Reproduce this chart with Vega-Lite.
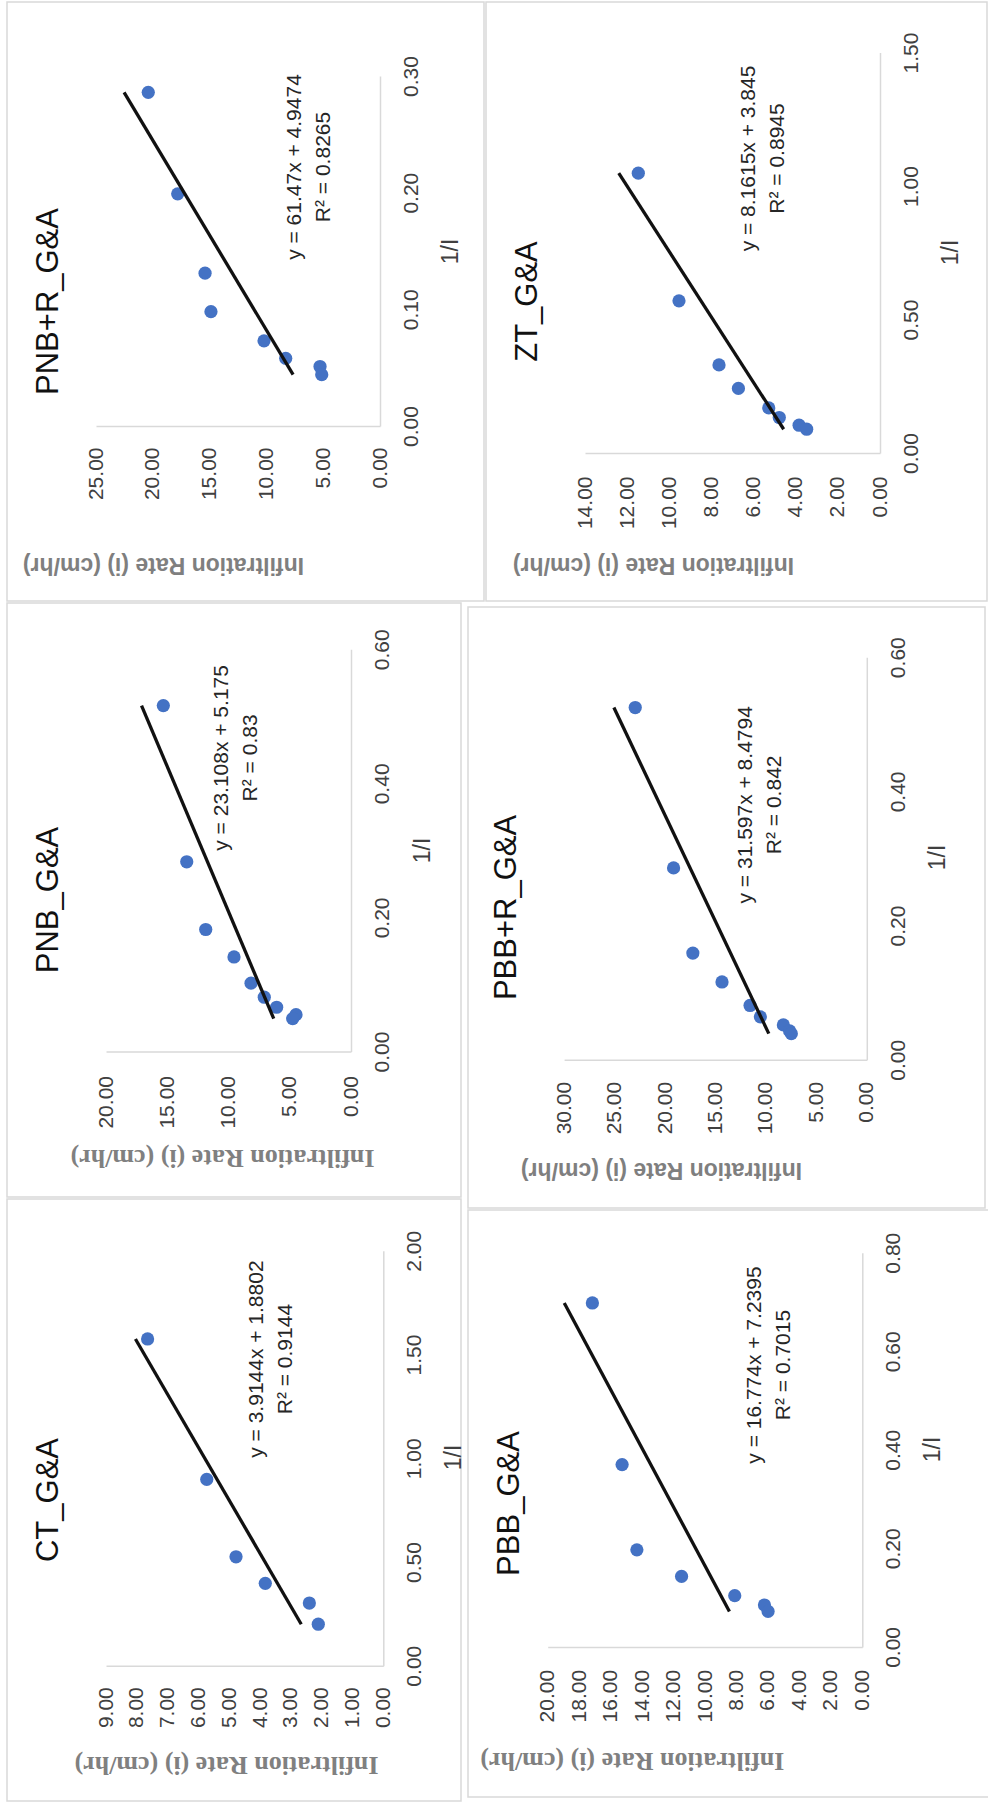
{
  "$schema": "https://vega.github.io/schema/vega-lite/v6.json",
  "padding": {"left": 6, "top": 1, "right": 0, "bottom": 0},
  "background": "white",
  "datasets": {
    "points": [
      {"panel": "PNB+R_G&A", "inv": 0.286, "rate": 20.40},
      {"panel": "PNB+R_G&A", "inv": 0.199, "rate": 17.81},
      {"panel": "PNB+R_G&A", "inv": 0.131, "rate": 15.40},
      {"panel": "PNB+R_G&A", "inv": 0.098, "rate": 14.88},
      {"panel": "PNB+R_G&A", "inv": 0.073, "rate": 10.21},
      {"panel": "PNB+R_G&A", "inv": 0.058, "rate": 8.30},
      {"panel": "PNB+R_G&A", "inv": 0.051, "rate": 5.28},
      {"panel": "PNB+R_G&A", "inv": 0.044, "rate": 5.13},
      {"panel": "ZT_G&A", "inv": 1.048, "rate": 11.47},
      {"panel": "ZT_G&A", "inv": 0.570, "rate": 9.54},
      {"panel": "ZT_G&A", "inv": 0.330, "rate": 7.64},
      {"panel": "ZT_G&A", "inv": 0.242, "rate": 6.72},
      {"panel": "ZT_G&A", "inv": 0.169, "rate": 5.28},
      {"panel": "ZT_G&A", "inv": 0.133, "rate": 4.78},
      {"panel": "ZT_G&A", "inv": 0.104, "rate": 3.84},
      {"panel": "ZT_G&A", "inv": 0.089, "rate": 3.48},
      {"panel": "PNB_G&A", "inv": 0.516, "rate": 15.32},
      {"panel": "PNB_G&A", "inv": 0.283, "rate": 13.41},
      {"panel": "PNB_G&A", "inv": 0.182, "rate": 11.86},
      {"panel": "PNB_G&A", "inv": 0.141, "rate": 9.55},
      {"panel": "PNB_G&A", "inv": 0.102, "rate": 8.16},
      {"panel": "PNB_G&A", "inv": 0.081, "rate": 7.08},
      {"panel": "PNB_G&A", "inv": 0.066, "rate": 6.07},
      {"panel": "PNB_G&A", "inv": 0.055, "rate": 4.49},
      {"panel": "PNB_G&A", "inv": 0.049, "rate": 4.76},
      {"panel": "PBB+R_G&A", "inv": 0.525, "rate": 22.95},
      {"panel": "PBB+R_G&A", "inv": 0.286, "rate": 19.15},
      {"panel": "PBB+R_G&A", "inv": 0.159, "rate": 17.24},
      {"panel": "PBB+R_G&A", "inv": 0.116, "rate": 14.35},
      {"panel": "PBB+R_G&A", "inv": 0.081, "rate": 11.57},
      {"panel": "PBB+R_G&A", "inv": 0.064, "rate": 10.55},
      {"panel": "PBB+R_G&A", "inv": 0.052, "rate": 8.27},
      {"panel": "PBB+R_G&A", "inv": 0.043, "rate": 7.65},
      {"panel": "PBB+R_G&A", "inv": 0.039, "rate": 7.48},
      {"panel": "CT_G&A", "inv": 1.575, "rate": 7.65},
      {"panel": "CT_G&A", "inv": 0.898, "rate": 5.73},
      {"panel": "CT_G&A", "inv": 0.525, "rate": 4.78},
      {"panel": "CT_G&A", "inv": 0.397, "rate": 3.83},
      {"panel": "CT_G&A", "inv": 0.302, "rate": 2.40},
      {"panel": "CT_G&A", "inv": 0.200, "rate": 2.11},
      {"panel": "PBB_G&A", "inv": 0.698, "rate": 17.16},
      {"panel": "PBB_G&A", "inv": 0.370, "rate": 15.27},
      {"panel": "PBB_G&A", "inv": 0.197, "rate": 14.33},
      {"panel": "PBB_G&A", "inv": 0.143, "rate": 11.49},
      {"panel": "PBB_G&A", "inv": 0.104, "rate": 8.11},
      {"panel": "PBB_G&A", "inv": 0.085, "rate": 6.22},
      {"panel": "PBB_G&A", "inv": 0.072, "rate": 5.99}
    ],
    "trend": [
      {"panel": "PNB+R_G&A", "inv": 0.044, "rate": 7.652},
      {"panel": "PNB+R_G&A", "inv": 0.286, "rate": 22.528},
      {"panel": "ZT_G&A", "inv": 0.089, "rate": 4.571},
      {"panel": "ZT_G&A", "inv": 1.048, "rate": 12.398},
      {"panel": "PNB_G&A", "inv": 0.049, "rate": 6.307},
      {"panel": "PNB_G&A", "inv": 0.516, "rate": 17.099},
      {"panel": "PBB+R_G&A", "inv": 0.039, "rate": 9.712},
      {"panel": "PBB+R_G&A", "inv": 0.525, "rate": 25.068},
      {"panel": "CT_G&A", "inv": 0.200, "rate": 2.663},
      {"panel": "CT_G&A", "inv": 1.575, "rate": 8.045},
      {"panel": "PBB_G&A", "inv": 0.072, "rate": 8.447},
      {"panel": "PBB_G&A", "inv": 0.698, "rate": 18.948}
    ],
    "labels": [
      {"panel": "PNB+R_G&A", "eq": "y = 61.47x + 4.9474\nR² = 0.8265"},
      {"panel": "ZT_G&A", "eq": "y = 8.1615x + 3.845\nR² = 0.8945"},
      {"panel": "PNB_G&A", "eq": "y = 23.108x + 5.175\nR² = 0.83"},
      {"panel": "PBB+R_G&A", "eq": "y = 31.597x + 8.4794\nR² = 0.842"},
      {"panel": "CT_G&A", "eq": "y = 3.9144x + 1.8802\nR² = 0.9144"},
      {"panel": "PBB_G&A", "eq": "y = 16.774x + 7.2395\nR² = 0.7015"}
    ]
  },
  "config": {
    "view": {"stroke": "#d9d9d9", "strokeWidth": 1.5},
    "axis": {"ticks": false, "tickSize": 0, "grid": false, "domainColor": "#d9d9d9", "domainWidth": 1.5, "labelFont": "Liberation Sans", "labelFontSize": 21, "labelColor": "#404040", "labelFlush": false, "labelOverlap": false, "titleAlign": "center", "titleBaseline": "middle"},
    "title": {"font": "Liberation Sans", "fontSize": 31, "fontWeight": "normal", "color": "#111111", "orient": "left", "anchor": "middle", "frame": "group", "baseline": "middle"}
  },
  "vconcat": [
    {
      "hconcat": [
        {
          "width": 477, "height": 599,
          "title": {"text": "PNB+R_G&A", "orient": "left", "anchor": "middle", "frame": "group", "baseline": "middle", "offset": -73, "font": "Liberation Sans", "fontSize": 31, "fontWeight": "normal", "color": "#111111"},
          "layer": [
            {"data": {"name": "points"}, "transform": [{"filter": {"field": "panel", "equal": "PNB+R_G&A"}}],
             "mark": {"type": "circle", "size": 175, "color": "#4472C4", "opacity": 1},
             "encoding": {
               "x": {"field": "rate", "type": "quantitative", "title": "Infiltration Rate (i) (cm/hr)", "scale": {"domain": [0, 25], "range": [373, 89], "nice": false, "zero": false},
                 "axis": {"orient": "bottom", "offset": -175, "values": [0, 5, 10, 15, 20, 25], "format": ".2f", "ticks": false, "tickSize": 0, "grid": false, "domainColor": "#d9d9d9", "domainWidth": 1.5, "labelFont": "Liberation Sans", "labelFontSize": 21, "labelColor": "#404040", "labelFlush": false, "labelOverlap": false, "labelPadding": 21, "labelAngle": 270, "labelAlign": "right", "labelBaseline": "middle", "titleFont": "Liberation Sans", "titleFontSize": 23, "titleFontWeight": "bold", "titleColor": "#7f7f7f", "titleAngle": 180, "titleAlign": "center", "titleBaseline": "middle", "titleX": 156, "titleY": 138}},
               "y": {"field": "inv", "type": "quantitative", "title": "1/I", "scale": {"domain": [0, 0.3], "range": [424, 74], "nice": false, "zero": false},
                 "axis": {"orient": "right", "offset": -104, "values": [0, 0.1, 0.2, 0.3], "format": ".2f", "ticks": false, "tickSize": 0, "grid": false, "domainColor": "#d9d9d9", "domainWidth": 1.5, "labelFont": "Liberation Sans", "labelFontSize": 21, "labelColor": "#404040", "labelFlush": false, "labelOverlap": false, "labelPadding": 20.5, "labelAngle": 270, "labelAlign": "center", "labelBaseline": "top", "titleFont": "Liberation Sans", "titleFontSize": 23, "titleFontWeight": "normal", "titleColor": "#404040", "titleAngle": 270, "titleAlign": "center", "titleBaseline": "middle", "titleX": 70.5, "titleY": 249}}
             }},
            {"data": {"name": "trend"}, "transform": [{"filter": {"field": "panel", "equal": "PNB+R_G&A"}}],
             "mark": {"type": "line", "color": "#111111", "strokeWidth": 3.3},
             "encoding": {"x": {"field": "rate", "type": "quantitative", "title": "Infiltration Rate (i) (cm/hr)"}, "y": {"field": "inv", "type": "quantitative", "title": "1/I"}}},
            {"data": {"name": "labels"}, "transform": [{"filter": {"field": "panel", "equal": "PNB+R_G&A"}}],
             "mark": {"type": "text", "angle": 270, "align": "center", "baseline": "middle", "lineBreak": "\n", "lineHeight": 29, "font": "Liberation Sans", "fontSize": 21, "color": "#262626"},
             "encoding": {"x": {"datum": 7.48, "type": "quantitative", "title": "Infiltration Rate (i) (cm/hr)"}, "y": {"datum": 0.222, "type": "quantitative", "title": "1/I"}, "text": {"field": "eq", "type": "nominal"}}}
          ]
        },
        {
          "width": 501, "height": 599,
          "title": {"text": "ZT_G&A", "orient": "left", "anchor": "middle", "frame": "group", "baseline": "middle", "offset": -73, "font": "Liberation Sans", "fontSize": 31, "fontWeight": "normal", "color": "#111111"},
          "layer": [
            {"data": {"name": "points"}, "transform": [{"filter": {"field": "panel", "equal": "ZT_G&A"}}],
             "mark": {"type": "circle", "size": 175, "color": "#4472C4", "opacity": 1},
             "encoding": {
               "x": {"field": "rate", "type": "quantitative", "title": "Infiltration Rate (i) (cm/hr)", "scale": {"domain": [0, 14], "range": [394, 99], "nice": false, "zero": false},
                 "axis": {"orient": "bottom", "offset": -148, "values": [0, 2, 4, 6, 8, 10, 12, 14], "format": ".2f", "ticks": false, "tickSize": 0, "grid": false, "domainColor": "#d9d9d9", "domainWidth": 1.5, "labelFont": "Liberation Sans", "labelFontSize": 21, "labelColor": "#404040", "labelFlush": false, "labelOverlap": false, "labelPadding": 23, "labelAngle": 270, "labelAlign": "right", "labelBaseline": "middle", "titleFont": "Liberation Sans", "titleFontSize": 23, "titleFontWeight": "bold", "titleColor": "#7f7f7f", "titleAngle": 180, "titleAlign": "center", "titleBaseline": "middle", "titleX": 167, "titleY": 111}},
               "y": {"field": "inv", "type": "quantitative", "title": "1/I", "scale": {"domain": [0, 1.5], "range": [451, 50.5], "nice": false, "zero": false},
                 "axis": {"orient": "right", "offset": -107, "values": [0, 0.5, 1, 1.5], "format": ".2f", "ticks": false, "tickSize": 0, "grid": false, "domainColor": "#d9d9d9", "domainWidth": 1.5, "labelFont": "Liberation Sans", "labelFontSize": 21, "labelColor": "#404040", "labelFlush": false, "labelOverlap": false, "labelPadding": 20.5, "labelAngle": 270, "labelAlign": "center", "labelBaseline": "top", "titleFont": "Liberation Sans", "titleFontSize": 23, "titleFontWeight": "normal", "titleColor": "#404040", "titleAngle": 270, "titleAlign": "center", "titleBaseline": "middle", "titleX": 70, "titleY": 250}}
             }},
            {"data": {"name": "trend"}, "transform": [{"filter": {"field": "panel", "equal": "ZT_G&A"}}],
             "mark": {"type": "line", "color": "#111111", "strokeWidth": 3.3},
             "encoding": {"x": {"field": "rate", "type": "quantitative", "title": "Infiltration Rate (i) (cm/hr)"}, "y": {"field": "inv", "type": "quantitative", "title": "1/I"}}},
            {"data": {"name": "labels"}, "transform": [{"filter": {"field": "panel", "equal": "ZT_G&A"}}],
             "mark": {"type": "text", "angle": 270, "align": "center", "baseline": "middle", "lineBreak": "\n", "lineHeight": 29, "font": "Liberation Sans", "fontSize": 21, "color": "#262626"},
             "encoding": {"x": {"datum": 6.24, "type": "quantitative", "title": "Infiltration Rate (i) (cm/hr)"}, "y": {"datum": 1.103, "type": "quantitative", "title": "1/I"}, "text": {"field": "eq", "type": "nominal"}}}
          ]
        }
      ],
      "spacing": 0
    },
    {
      "hconcat": [
        {
          "vconcat": [
            {
              "width": 454, "height": 594,
              "title": {"text": "PNB_G&A", "orient": "left", "anchor": "middle", "frame": "group", "baseline": "middle", "offset": -73, "font": "Liberation Sans", "fontSize": 31, "fontWeight": "normal", "color": "#111111"},
              "layer": [
                {"data": {"name": "points"}, "transform": [{"filter": {"field": "panel", "equal": "PNB_G&A"}}],
                 "mark": {"type": "circle", "size": 175, "color": "#4472C4", "opacity": 1},
                 "encoding": {
                   "x": {"field": "rate", "type": "quantitative", "title": "Infiltration Rate (i) (cm/hr)", "scale": {"domain": [0, 20], "range": [344, 99], "nice": false, "zero": false},
                     "axis": {"orient": "bottom", "offset": -145.5, "values": [0, 5, 10, 15, 20], "format": ".2f", "ticks": false, "tickSize": 0, "grid": false, "domainColor": "#d9d9d9", "domainWidth": 1.5, "labelFont": "Liberation Sans", "labelFontSize": 21, "labelColor": "#404040", "labelFlush": false, "labelOverlap": false, "labelPadding": 24, "labelAngle": 270, "labelAlign": "right", "labelBaseline": "middle", "titleFont": "Liberation Serif", "titleFontSize": 26, "titleFontWeight": "bold", "titleColor": "#808080", "titleAngle": 180, "titleAlign": "center", "titleBaseline": "middle", "titleX": 215, "titleY": 105.5}},
                   "y": {"field": "inv", "type": "quantitative", "title": "1/I", "scale": {"domain": [0, 0.6], "range": [448.5, 46.3], "nice": false, "zero": false},
                     "axis": {"orient": "right", "offset": -110, "values": [0, 0.2, 0.4, 0.6], "format": ".2f", "ticks": false, "tickSize": 0, "grid": false, "domainColor": "#d9d9d9", "domainWidth": 1.5, "labelFont": "Liberation Sans", "labelFontSize": 21, "labelColor": "#404040", "labelFlush": false, "labelOverlap": false, "labelPadding": 20.5, "labelAngle": 270, "labelAlign": "center", "labelBaseline": "top", "titleFont": "Liberation Sans", "titleFontSize": 23, "titleFontWeight": "normal", "titleColor": "#404040", "titleAngle": 270, "titleAlign": "center", "titleBaseline": "middle", "titleX": 71.5, "titleY": 247}}
                 }},
                {"data": {"name": "trend"}, "transform": [{"filter": {"field": "panel", "equal": "PNB_G&A"}}],
                 "mark": {"type": "line", "color": "#111111", "strokeWidth": 3.3},
                 "encoding": {"x": {"field": "rate", "type": "quantitative", "title": "Infiltration Rate (i) (cm/hr)"}, "y": {"field": "inv", "type": "quantitative", "title": "1/I"}}},
                {"data": {"name": "labels"}, "transform": [{"filter": {"field": "panel", "equal": "PNB_G&A"}}],
                 "mark": {"type": "text", "angle": 270, "align": "center", "baseline": "middle", "lineBreak": "\n", "lineHeight": 29, "font": "Liberation Sans", "fontSize": 21, "color": "#262626"},
                 "encoding": {"x": {"datum": 10.57, "type": "quantitative", "title": "Infiltration Rate (i) (cm/hr)"}, "y": {"datum": 0.438, "type": "quantitative", "title": "1/I"}, "text": {"field": "eq", "type": "nominal"}}}
              ]
            },
            {
              "width": 454, "height": 602,
              "title": {"text": "CT_G&A", "orient": "left", "anchor": "middle", "frame": "group", "baseline": "middle", "offset": -73, "font": "Liberation Sans", "fontSize": 31, "fontWeight": "normal", "color": "#111111"},
              "layer": [
                {"data": {"name": "points"}, "transform": [{"filter": {"field": "panel", "equal": "CT_G&A"}}],
                 "mark": {"type": "circle", "size": 175, "color": "#4472C4", "opacity": 1},
                 "encoding": {
                   "x": {"field": "rate", "type": "quantitative", "title": "Infiltration Rate (i) (cm/hr)", "scale": {"domain": [0, 9], "range": [376.3, 99], "nice": false, "zero": false},
                     "axis": {"orient": "bottom", "offset": -135.3, "values": [0, 1, 2, 3, 4, 5, 6, 7, 8, 9], "format": ".2f", "ticks": false, "tickSize": 0, "grid": false, "domainColor": "#d9d9d9", "domainWidth": 1.5, "labelFont": "Liberation Sans", "labelFontSize": 21, "labelColor": "#404040", "labelFlush": false, "labelOverlap": false, "labelPadding": 21, "labelAngle": 270, "labelAlign": "right", "labelBaseline": "middle", "titleFont": "Liberation Serif", "titleFontSize": 26, "titleFontWeight": "bold", "titleColor": "#808080", "titleAngle": 180, "titleAlign": "center", "titleBaseline": "middle", "titleX": 219, "titleY": 98.8}},
                   "y": {"field": "inv", "type": "quantitative", "title": "1/I", "scale": {"domain": [0, 2], "range": [466.7, 51.8], "nice": false, "zero": false},
                     "axis": {"orient": "right", "offset": -77.7, "values": [0, 0.5, 1, 1.5, 2], "format": ".2f", "ticks": false, "tickSize": 0, "grid": false, "domainColor": "#d9d9d9", "domainWidth": 1.5, "labelFont": "Liberation Sans", "labelFontSize": 21, "labelColor": "#404040", "labelFlush": false, "labelOverlap": false, "labelPadding": 20.5, "labelAngle": 270, "labelAlign": "center", "labelBaseline": "top", "titleFont": "Liberation Sans", "titleFontSize": 23, "titleFontWeight": "normal", "titleColor": "#404040", "titleAngle": 270, "titleAlign": "center", "titleBaseline": "middle", "titleX": 70.2, "titleY": 258}}
                 }},
                {"data": {"name": "trend"}, "transform": [{"filter": {"field": "panel", "equal": "CT_G&A"}}],
                 "mark": {"type": "line", "color": "#111111", "strokeWidth": 3.3},
                 "encoding": {"x": {"field": "rate", "type": "quantitative", "title": "Infiltration Rate (i) (cm/hr)"}, "y": {"field": "inv", "type": "quantitative", "title": "1/I"}}},
                {"data": {"name": "labels"}, "transform": [{"filter": {"field": "panel", "equal": "CT_G&A"}}],
                 "mark": {"type": "text", "angle": 270, "align": "center", "baseline": "middle", "lineBreak": "\n", "lineHeight": 29, "font": "Liberation Sans", "fontSize": 21, "color": "#262626"},
                 "encoding": {"x": {"datum": 4.115, "type": "quantitative", "title": "Infiltration Rate (i) (cm/hr)"}, "y": {"datum": 1.478, "type": "quantitative", "title": "1/I"}, "text": {"field": "eq", "type": "nominal"}}}
              ]
            }
          ],
          "spacing": 0
        },
        {
          "vconcat": [
            {"width": 10, "height": 3, "data": {"values": []}, "mark": "point", "encoding": {}, "view": {"stroke": null}},
            {
              "width": 517, "height": 601,
              "title": {"text": "PBB+R_G&A", "orient": "left", "anchor": "middle", "frame": "group", "baseline": "middle", "offset": -70, "font": "Liberation Sans", "fontSize": 31, "fontWeight": "normal", "color": "#111111"},
              "layer": [
                {"data": {"name": "points"}, "transform": [{"filter": {"field": "panel", "equal": "PBB+R_G&A"}}],
                 "mark": {"type": "circle", "size": 175, "color": "#4472C4", "opacity": 1},
                 "encoding": {
                   "x": {"field": "rate", "type": "quantitative", "title": "Infiltration Rate (i) (cm/hr)", "scale": {"domain": [0, 30], "range": [398.8, 96.1], "nice": false, "zero": false},
                     "axis": {"orient": "bottom", "offset": -148.2, "values": [0, 5, 10, 15, 20, 25, 30], "format": ".2f", "ticks": false, "tickSize": 0, "grid": false, "domainColor": "#d9d9d9", "domainWidth": 1.5, "labelFont": "Liberation Sans", "labelFontSize": 21, "labelColor": "#404040", "labelFlush": false, "labelOverlap": false, "labelPadding": 21.5, "labelAngle": 270, "labelAlign": "right", "labelBaseline": "middle", "titleFont": "Liberation Sans", "titleFontSize": 23, "titleFontWeight": "bold", "titleColor": "#7f7f7f", "titleAngle": 180, "titleAlign": "center", "titleBaseline": "middle", "titleX": 193, "titleY": 109.2}},
                   "y": {"field": "inv", "type": "quantitative", "title": "1/I", "scale": {"domain": [0, 0.6], "range": [452.8, 50.2], "nice": false, "zero": false},
                     "axis": {"orient": "right", "offset": -118.2, "values": [0, 0.2, 0.4, 0.6], "format": ".2f", "ticks": false, "tickSize": 0, "grid": false, "domainColor": "#d9d9d9", "domainWidth": 1.5, "labelFont": "Liberation Sans", "labelFontSize": 21, "labelColor": "#404040", "labelFlush": false, "labelOverlap": false, "labelPadding": 20.5, "labelAngle": 270, "labelAlign": "center", "labelBaseline": "top", "titleFont": "Liberation Sans", "titleFontSize": 23, "titleFontWeight": "normal", "titleColor": "#404040", "titleAngle": 270, "titleAlign": "center", "titleBaseline": "middle", "titleX": 70.2, "titleY": 250}}
                 }},
                {"data": {"name": "trend"}, "transform": [{"filter": {"field": "panel", "equal": "PBB+R_G&A"}}],
                 "mark": {"type": "line", "color": "#111111", "strokeWidth": 3.3},
                 "encoding": {"x": {"field": "rate", "type": "quantitative", "title": "Infiltration Rate (i) (cm/hr)"}, "y": {"field": "inv", "type": "quantitative", "title": "1/I"}}},
                {"data": {"name": "labels"}, "transform": [{"filter": {"field": "panel", "equal": "PBB+R_G&A"}}],
                 "mark": {"type": "text", "angle": 270, "align": "center", "baseline": "middle", "lineBreak": "\n", "lineHeight": 29, "font": "Liberation Sans", "fontSize": 21, "color": "#262626"},
                 "encoding": {"x": {"datum": 11.99, "type": "quantitative", "title": "Infiltration Rate (i) (cm/hr)"}, "y": {"datum": 0.380, "type": "quantitative", "title": "1/I"}, "text": {"field": "eq", "type": "nominal"}}}
              ]
            },
            {
              "width": 521, "height": 587,
              "title": {"text": "PBB_G&A", "orient": "left", "anchor": "middle", "frame": "group", "baseline": "middle", "offset": -73, "font": "Liberation Sans", "fontSize": 31, "fontWeight": "normal", "color": "#111111"},
              "layer": [
                {"data": {"name": "points"}, "transform": [{"filter": {"field": "panel", "equal": "PBB_G&A"}}],
                 "mark": {"type": "circle", "size": 175, "color": "#4472C4", "opacity": 1},
                 "encoding": {
                   "x": {"field": "rate", "type": "quantitative", "title": "Infiltration Rate (i) (cm/hr)", "scale": {"domain": [0, 20], "range": [394.3, 79.7], "nice": false, "zero": false},
                     "axis": {"orient": "bottom", "offset": -150.1, "values": [0, 2, 4, 6, 8, 10, 12, 14, 16, 18, 20], "format": ".2f", "ticks": false, "tickSize": 0, "grid": false, "domainColor": "#d9d9d9", "domainWidth": 1.5, "labelFont": "Liberation Sans", "labelFontSize": 21, "labelColor": "#404040", "labelFlush": false, "labelOverlap": false, "labelPadding": 22.5, "labelAngle": 270, "labelAlign": "right", "labelBaseline": "middle", "titleFont": "Liberation Serif", "titleFontSize": 26, "titleFontWeight": "bold", "titleColor": "#808080", "titleAngle": 180, "titleAlign": "center", "titleBaseline": "middle", "titleX": 163.8, "titleY": 113.7}},
                   "y": {"field": "inv", "type": "quantitative", "title": "1/I", "scale": {"domain": [0, 0.8], "range": [436.9, 42.7], "nice": false, "zero": false},
                     "axis": {"orient": "right", "offset": -126.7, "values": [0, 0.2, 0.4, 0.6, 0.8], "format": ".2f", "ticks": false, "tickSize": 0, "grid": false, "domainColor": "#d9d9d9", "domainWidth": 1.5, "labelFont": "Liberation Sans", "labelFontSize": 21, "labelColor": "#404040", "labelFlush": false, "labelOverlap": false, "labelPadding": 20.5, "labelAngle": 270, "labelAlign": "center", "labelBaseline": "top", "titleFont": "Liberation Sans", "titleFontSize": 23, "titleFontWeight": "normal", "titleColor": "#404040", "titleAngle": 270, "titleAlign": "center", "titleBaseline": "middle", "titleX": 70.6, "titleY": 239}}
                 }},
                {"data": {"name": "trend"}, "transform": [{"filter": {"field": "panel", "equal": "PBB_G&A"}}],
                 "mark": {"type": "line", "color": "#111111", "strokeWidth": 3.3},
                 "encoding": {"x": {"field": "rate", "type": "quantitative", "title": "Infiltration Rate (i) (cm/hr)"}, "y": {"field": "inv", "type": "quantitative", "title": "1/I"}}},
                {"data": {"name": "labels"}, "transform": [{"filter": {"field": "panel", "equal": "PBB_G&A"}}],
                 "mark": {"type": "text", "angle": 270, "align": "center", "baseline": "middle", "lineBreak": "\n", "lineHeight": 29, "font": "Liberation Sans", "fontSize": 21, "color": "#262626"},
                 "encoding": {"x": {"datum": 6.80, "type": "quantitative", "title": "Infiltration Rate (i) (cm/hr)"}, "y": {"datum": 0.572, "type": "quantitative", "title": "1/I"}, "text": {"field": "eq", "type": "nominal"}}}
              ]
            }
          ],
          "spacing": 0
        }
      ],
      "spacing": 0
    }
  ],
  "spacing": 0
}
